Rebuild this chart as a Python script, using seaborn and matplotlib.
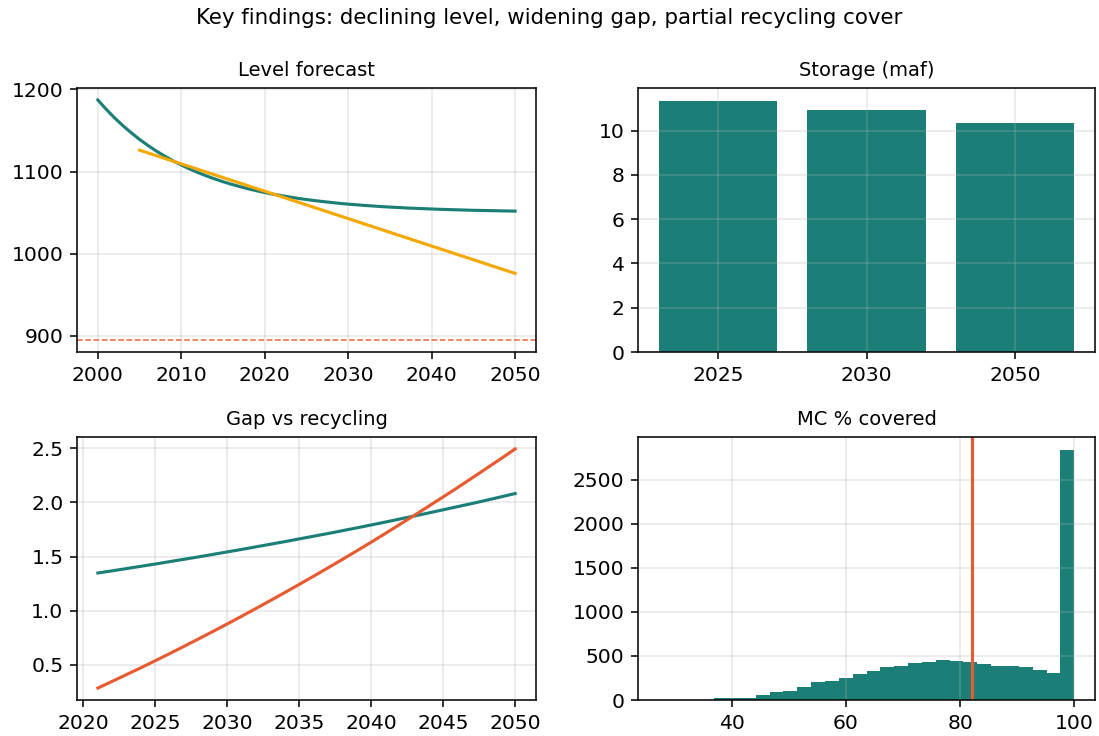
import numpy as np
import pandas as pd
import matplotlib
matplotlib.use("Agg")
import matplotlib.pyplot as plt
import seaborn as sns

# ---- data ----
level_years = np.arange(2000, 2051)
level_model = [1187.0, 1175.7, 1165.3, 1155.8, 1147.1, 1139.0, 1131.7, 1124.9, 1118.8, 1113.1,
               1107.9, 1103.1, 1098.7, 1094.7, 1091.0, 1087.6, 1084.5, 1081.7, 1079.0, 1076.6,
               1074.4, 1072.4, 1070.6, 1068.9, 1067.3, 1065.9, 1064.6, 1063.4, 1062.3, 1061.2,
               1060.3, 1059.5, 1058.7, 1058.0, 1057.3, 1056.7, 1056.2, 1055.6, 1055.2, 1054.8,
               1054.4, 1054.0, 1053.7, 1053.4, 1053.1, 1052.8, 1052.6, 1052.4, 1052.2, 1052.0,
               1051.8]
trend_years = [2005, 2010, 2020, 2030, 2040, 2050]
trend_level = [1126.0, 1109.3, 1076.0, 1042.7, 1009.3, 976.0]
dead_pool = 895.0

storage_years = ["2025", "2030", "2050"]
storage_maf = [11.36, 10.94, 10.35]

gap_years = np.arange(2021, 2051)
gap = [1.348, 1.368, 1.389, 1.410, 1.431, 1.453, 1.475, 1.497, 1.520, 1.543,
       1.566, 1.590, 1.614, 1.638, 1.663, 1.688, 1.713, 1.739, 1.765, 1.792,
       1.819, 1.847, 1.875, 1.903, 1.932, 1.961, 1.990, 2.020, 2.051, 2.082]
recycling = [0.285, 0.347, 0.410, 0.473, 0.538, 0.604, 0.671, 0.739, 0.808, 0.878,
             0.949, 1.021, 1.094, 1.168, 1.243, 1.319, 1.396, 1.474, 1.553, 1.633,
             1.715, 1.798, 1.881, 1.966, 2.051, 2.137, 2.225, 2.314, 2.403, 2.494]

cover_lo, cover_hi, n_bins = 27.2, 100.0, 30
cover_counts = [1, 2, 3, 5, 19, 19, 27, 57, 95, 102,
                148, 201, 212, 254, 296, 330, 372, 383, 425, 436,
                459, 448, 429, 413, 383, 383, 372, 345, 307, 2841]
cover_mean = 82.1

TEAL = "#1b7f78"
ORANGE = "#f4a800"
RED = "#e85a30"

# ---- figure ----
fig = plt.figure(figsize=(1099 / 140, 736 / 140), dpi=140)
plt.rcParams["font.family"] = ["DejaVu Sans"]

left_x, right_x = 77 / 1099, 638 / 1099
w_l, w_r = 459 / 1099, 457 / 1099
top_y, bot_y = 1 - 352 / 736, 1 - 700 / 736
h_t, h_b = 264 / 736, 263 / 736

ax1 = fig.add_axes([left_x, top_y, w_l, h_t])
ax2 = fig.add_axes([right_x, top_y, w_r, h_t])
ax3 = fig.add_axes([left_x, bot_y, w_l, h_b])
ax4 = fig.add_axes([right_x, bot_y, w_r, h_b])

# Level forecast
sns.lineplot(x=level_years, y=level_model, ax=ax1, color=TEAL, linewidth=1.6)
sns.lineplot(x=trend_years, y=trend_level, ax=ax1, color=ORANGE, linewidth=1.6)
ax1.axhline(dead_pool, color=RED, linestyle="--", linewidth=0.8, alpha=0.9)
ax1.set_title("Level forecast", fontsize=10)

# Storage bars
sns.barplot(x=storage_years, y=storage_maf, ax=ax2, color=TEAL, saturation=1, width=0.8)
ax2.set_xlim(-0.54, 2.54)
ax2.set_title("Storage (maf)", fontsize=10)

# Gap vs recycling
sns.lineplot(x=gap_years, y=gap, ax=ax3, color=TEAL, linewidth=1.6)
sns.lineplot(x=gap_years, y=recycling, ax=ax3, color=RED, linewidth=1.6)
ax3.set_xticks([2020, 2025, 2030, 2035, 2040, 2045, 2050])
ax3.set_title("Gap vs recycling", fontsize=10)

# Monte Carlo coverage histogram
edges = np.linspace(cover_lo, cover_hi, n_bins + 1)
cover = pd.DataFrame({"pct": (edges[:-1] + edges[1:]) / 2, "n": cover_counts})
sns.histplot(data=cover, x="pct", weights="n", bins=edges.tolist(), ax=ax4,
             color=TEAL, alpha=1, linewidth=0)
ax4.axvline(cover_mean, color=RED, linewidth=1.6)
ax4.set_title("MC % covered", fontsize=10)

for ax in (ax1, ax2, ax3, ax4):
    ax.set_xlabel("")
    ax.set_ylabel("")
    ax.grid(True, alpha=0.3)
    ax.tick_params(labelsize=10.4)

fig.suptitle("Key findings: declining level, widening gap, partial recycling cover",
             fontsize=11, y=1 - 18 / 736, va="center")

fig.savefig("out.png", dpi=140)
